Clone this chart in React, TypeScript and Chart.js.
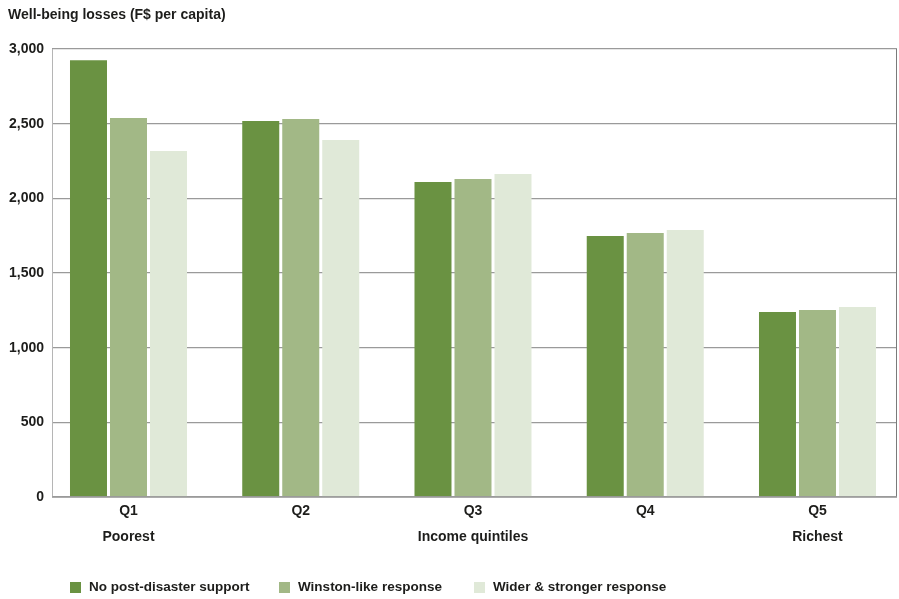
import React, { useEffect, useRef } from "react";
import { Chart, registerables } from "chart.js";

Chart.register(...registerables);

const categories = ["Q1", "Q2", "Q3", "Q4", "Q5"];
const subLabels = ["Poorest", "", "Income quintiles", "", "Richest"];
const seriesNames = [
  "No post-disaster support",
  "Winston-like response",
  "Wider & stronger response",
];
const noSupport = [2925, 2518, 2109, 1748, 1239];
const winstonLike = [2538, 2531, 2129, 1768, 1252];
const widerStronger = [2317, 2391, 2163, 1788, 1272];
const yMin = 0;
const yMax = 3000;
const yStep = 500;
const titleText = "Well-being losses (F$ per capita)";

const seriesColors = ["#6a9242", "#a2b886", "#e0e9d8"];
const FONT = '"Liberation Sans", Arial, sans-serif';
const TEXT = "#1d1d1b";

const framePlugin = {
  id: "frame",
  afterDraw(chart: any) {
    const { ctx, chartArea } = chart;
    const { left, right, top, bottom } = chartArea;
    ctx.save();
    ctx.lineWidth = 1;
    ctx.strokeStyle = "#b5b5b5";
    ctx.beginPath();
    ctx.moveTo(left + 0.5, top);
    ctx.lineTo(left + 0.5, bottom);
    ctx.stroke();
    ctx.strokeStyle = "#7a7a7a";
    ctx.beginPath();
    ctx.moveTo(right - 0.5, top);
    ctx.lineTo(right - 0.5, bottom);
    ctx.stroke();
    ctx.strokeStyle = "#9a9a9a";
    ctx.lineWidth = 1.5;
    ctx.beginPath();
    ctx.moveTo(left, bottom);
    ctx.lineTo(right, bottom);
    ctx.stroke();
    ctx.restore();
  },
};

export default function App() {
  const canvasRef = useRef<HTMLCanvasElement | null>(null);

  useEffect(() => {
    if (!canvasRef.current) return;
    const seriesValues = [noSupport, winstonLike, widerStronger];
    const chart = new Chart(canvasRef.current, {
      type: "bar",
      data: {
        datasets: seriesValues.map((vals, s) => ({
          label: seriesNames[s],
          data: vals.map((v, i) => ({ x: i, y: v })),
          backgroundColor: seriesColors[s],
          borderWidth: 0,
          categoryPercentage: 0.6967,
          barPercentage: 0.925,
        })),
      },
      options: {
        responsive: false,
        animation: false,
        layout: { padding: { top: 49, left: 0, right: 2, bottom: 0 } },
        plugins: {
          legend: { display: false },
          title: { display: false },
          tooltip: { enabled: false },
        },
        scales: {
          x: {
            type: "linear",
            min: -0.4441,
            max: 4.4616,
            offset: false,
            grid: { display: false, drawTicks: false },
            border: { display: false },
            ticks: {
              stepSize: 1,
              includeBounds: false,
              autoSkip: false,
              maxRotation: 0,
              padding: 2,
              color: TEXT,
              font: { family: FONT, size: 14, weight: "bold", lineHeight: 1.8 },
              callback: (v: any) => {
                const i = Number(v);
                if (!Number.isInteger(i) || i < 0 || i >= categories.length) return "";
                return [categories[i], subLabels[i]];
              },
            },
            afterFit: (scale: any) => {
              scale.height = 102;
            },
          },
          y: {
            min: yMin,
            max: yMax,
            grid: { color: "#9a9a9a", lineWidth: 1.3, drawTicks: false },
            border: { display: false },
            ticks: {
              stepSize: yStep,
              padding: 8,
              color: TEXT,
              font: { family: FONT, size: 14, weight: "bold" },
              callback: (v: any) => Number(v).toLocaleString("en-US"),
            },
            afterFit: (scale: any) => {
              scale.width = 52;
            },
          },
        },
      },
      plugins: [framePlugin],
    });
    return () => chart.destroy();
  }, []);

  const legendX = [70, 279, 474];

  return (
    <div
      style={{
        position: "absolute",
        left: 0,
        top: 0,
        width: 899,
        height: 599,
        background: "#ffffff",
        fontFamily: FONT,
        color: TEXT,
        fontWeight: "bold",
      }}
    >
      <canvas ref={canvasRef} width={899} height={599} style={{ display: "block" }} />
      <div
        style={{
          position: "absolute",
          left: 8,
          top: 6,
          fontSize: 14,
          lineHeight: "16px",
          whiteSpace: "nowrap",
        }}
      >
        {titleText}
      </div>
      {seriesNames.map((name, s) => (
        <div
          key={name}
          style={{
            position: "absolute",
            left: legendX[s],
            top: 579,
            display: "flex",
            alignItems: "center",
            fontSize: 13.5,
            lineHeight: "16px",
            whiteSpace: "nowrap",
          }}
        >
          <span
            style={{
              display: "inline-block",
              width: 11,
              height: 11,
              background: seriesColors[s],
              marginRight: 8,
            }}
          />
          <span>{name}</span>
        </div>
      ))}
    </div>
  );
}
